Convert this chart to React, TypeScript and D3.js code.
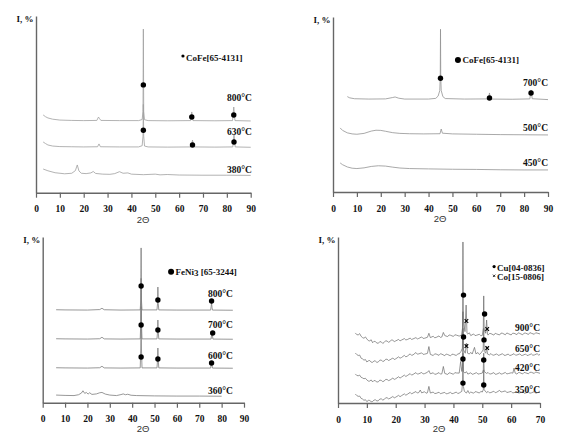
import React, { useEffect, useRef } from 'react';
import * as d3 from 'd3';

type Pt = [number, number];

// tick values
const ticks90 = [0, 10, 20, 30, 40, 50, 60, 70, 80, 90];
const ticks70 = [0, 10, 20, 30, 40, 50, 60, 70];

// panel 1 - CoFe, traces as [2theta, intensity %]
const cofeA800: Pt[] = [[3,44],[4,43],[5,42.3],[7,41.6],[10,41.1],[15,40.9],[20,40.8],[25.5,40.9],[26.2,42.8],[26.6,42],[27.2,40.9],[35,40.8],[43,40.8],[44.5,41.4],[44.85,46],[45,92.6],[45.15,46],[45.5,41.3],[47,40.8],[55,40.7],[64.8,40.8],[65.3,45.7],[65.8,40.8],[75,40.7],[82.4,40.8],[82.9,48.5],[83.4,40.8],[90,40.6]];
const cofeA630: Pt[] = [[3,28.7],[4,27.8],[5,27],[7,26.4],[10,26.1],[15,26],[20,25.9],[25.8,26],[26.4,27.6],[27,26],[35,25.9],[43,25.9],[44.5,26.6],[44.85,32],[45,50],[45.15,32],[45.5,26.4],[47,25.9],[55,25.8],[65.1,25.9],[65.6,29.8],[66.1,25.9],[75,25.8],[82.5,25.9],[83,32.7],[83.5,25.9],[90,25.7]];
const cofeA380: Pt[] = [[3,13.4],[5,12.4],[8,11.3],[12,10.7],[15,11],[16.5,12.5],[17.3,15.7],[18,12.3],[19,11],[21,10.8],[23,11.2],[24,12],[25,10.9],[28,10.5],[31,10.4],[33,10.8],[35,11.9],[36.5,11],[38.5,11.2],[40,10.5],[45,10.2],[50,10.5],[52,10.1],[55,10.3],[60,10],[70,9.9],[80,9.9],[90,9.8]];
const cofeADots: Pt[] = [[45,61],[65.3,42.8],[82.9,44],[45,35.3],[65.6,27],[83,28.7]];
const cofeALabels: [string, number][] = [['800°C', 53.6], ['630°C', 34.4], ['380°C', 13.4]];

// panel 2 - CoFe
const cofeB700: Pt[] = [[6,54.5],[7,53.8],[9,53.3],[15,53.1],[22,53.2],[25,54],[26,54.3],[27.5,53.6],[30,53.1],[40,53.1],[43,53.5],[44,54.8],[44.7,58],[44.9,66],[45,93],[45.1,66],[45.3,58],[46,54.5],[47,53.4],[55,53.1],[65.1,53.2],[65.5,56.6],[65.9,53.1],[75,53],[82.4,53.2],[82.9,58.3],[83.4,53.3],[90,52.8]];
const cofeB500: Pt[] = [[3,36.6],[4,35.2],[6,33.8],[8,33.2],[10,33],[13,33.5],[16,34.8],[18,35.3],[20,35.2],[22,34.7],[25,33.9],[28,33.5],[32,33.3],[38,33.2],[44.8,33.3],[45.3,36],[45.8,33.6],[50,33.2],[60,33],[70,32.8],[80,32.7],[90,32.6]];
const cofeB450: Pt[] = [[3,16.6],[4,15.6],[6,14.3],[8,13.6],[10,13.4],[13,13.8],[16,14.6],[19,15],[22,14.8],[25,14.2],[28,13.7],[32,13.4],[40,13.2],[50,13],[60,12.9],[70,12.7],[80,12.6],[90,12.6]];
const cofeBDots: Pt[] = [[45,65],[65.5,53.7],[82.9,56.6]];
const cofeBLabels: [string, number][] = [['700°C', 62.5], ['500°C', 36.7], ['450°C', 16.8]];

// panel 3 - FeNi3
const feni800: Pt[] = [[6,56.1],[10,56],[20,55.9],[25.5,56.2],[26.5,57],[27.5,56.1],[35,55.9],[43.6,56],[43.85,62],[44,93.4],[44.15,62],[44.4,56],[51.1,56],[51.35,60],[51.5,69.8],[51.65,60],[51.9,56],[60,55.9],[75.1,55.9],[75.3,58],[75.5,60.2],[75.7,57.5],[75.9,55.9],[85,55.8]];
const feni700: Pt[] = [[6,38.6],[10,38.5],[20,38.4],[25.5,38.6],[26.5,39.5],[27.5,38.5],[35,38.4],[43.6,38.5],[43.85,48],[44,75],[44.15,48],[44.4,38.5],[51.1,38.5],[51.35,43],[51.5,49.9],[51.65,43],[51.9,38.5],[60,38.4],[75.3,38.4],[75.5,41],[75.7,42.8],[75.9,40.5],[76.1,38.4],[85,38.3]];
const feni600: Pt[] = [[6,21.1],[10,21],[20,20.9],[25.5,21.1],[26.5,22],[27.5,21],[35,20.9],[43.6,21],[43.85,33],[44,58],[44.15,33],[44.4,21],[51.1,21],[51.35,26],[51.5,33],[51.65,26],[51.9,21],[60,20.9],[75.1,20.9],[75.3,23],[75.5,24.7],[75.7,22.5],[75.9,20.9],[85,20.8]];
const feni360: Pt[] = [[6,4.6],[10,4.4],[14,4.3],[16,4.8],[17.3,5.8],[18,7.2],[18.8,5.6],[19.5,6.2],[20.3,5.2],[21,6],[22,5],[24,5.3],[25.5,6],[26.5,6.2],[28,5.2],[30,4.6],[33,4.3],[35,4.9],[36,5.3],[37,4.8],[38,5.1],[39.5,4.5],[42,4.3],[50,4.1],[60,4],[70,4],[80,3.9]];
const feniDots: Pt[] = [[44,70.4],[51.5,62],[75.5,61.4],[44,46.9],[51.5,43.9],[76,42.1],[44,27.6],[51.5,26.4],[75.5,24]];
const feniLabels: [string, number][] = [['800°C', 66.2], ['700°C', 46.9], ['600°C', 28.2], ['360°C', 7.1]];

// panel 4 - Cu / Co
const cuco900: Pt[] = [[6,42.2],[6.5,41.2],[7,41],[7.5,41.8],[8,40.2],[8.5,39.4],[9,39],[9.5,39.8],[10,38.6],[10.5,37.6],[11,37.4],[11.5,38.1],[12,36.3],[12.5,37.2],[13,36.9],[13.5,36.1],[14,36],[14.5,37],[15,36.8],[15.5,35.9],[16,36.5],[16.5,37.5],[17,37.3],[17.5,36.6],[18,37],[18.5,38],[19,37.8],[19.5,37],[20,37.4],[21,38.3],[21.5,37.4],[22,37.9],[23,38.8],[23.5,38],[24,38.2],[25,39.1],[25.5,38.3],[26,38.6],[27,39.4],[27.5,38.6],[28,38.9],[29,39.8],[29.5,38.9],[30,39],[31,39.6],[31.5,42],[32,39.4],[33,40.2],[33.5,39.3],[34,39.5],[35,40.4],[35.5,39.5],[36,39.8],[36.5,42.5],[37,40.6],[38,40],[38.5,41],[39,40.8],[40,40.1],[40.5,41.1],[41,40.9],[42,40.3],[42.8,41],[43.15,45],[43.3,97],[43.45,50],[44,43],[44.4,59],[44.7,42],[45,41.5],[45.5,42.3],[46,40.6],[47,41.6],[47.5,40.6],[48,40.8],[49,41.4],[49.5,40.5],[50,40.7],[50.35,45],[50.5,64.5],[50.65,44],[51.2,42],[51.5,50],[51.8,41.5],[52,40.9],[52.5,41.9],[53,41.8],[54,40.9],[54.5,42],[55,41.6],[56,41],[56.5,42.1],[57,42],[58,41.1],[58.5,42.2],[59,41.8],[60,41],[60.5,42],[61,42],[62,41.2],[62.5,42.3],[63,41.9],[64,41.1],[64.5,42.1],[65,42.1],[66,41.3],[66.5,42.4],[67,42],[68,41.4],[68.5,42.3],[69,42.1],[70,41.6]];
const cuco650: Pt[] = [[6,30.1],[6.5,29.2],[7,28.6],[7.5,28.9],[8,27],[8.5,26.6],[9,25.8],[9.5,26.2],[10,24.7],[10.5,25.4],[11,25.6],[11.5,24.6],[12,24.5],[12.5,25.4],[13,25.2],[13.5,24.4],[14,24.8],[14.5,25.8],[15,25.9],[15.5,25],[16,25.3],[16.5,26.3],[17,26.4],[17.5,25.6],[18,26],[19,27.1],[19.5,26.2],[20,26.6],[21,27.8],[21.5,27],[22,27.4],[23,28.7],[23.5,27.8],[24,28.2],[25,29.6],[25.5,28.7],[26,29],[27,30.4],[27.5,29.4],[28,29.6],[29,30.2],[29.5,29.3],[30,29.4],[31,29.9],[31.5,34],[32,29.3],[33,28.6],[33.5,29.6],[34,29.5],[35,28.7],[35.5,29.7],[36,29.4],[37,28.5],[37.5,29.5],[38,29.2],[39,28.4],[39.5,29.4],[40,29.3],[41,28.6],[41.5,29.6],[42,29.6],[42.6,31],[43.1,33],[43.3,55],[43.5,32],[44.1,30],[44.5,36],[44.9,30],[45.5,29.5],[46,30.5],[46.5,29.5],[47.3,33.5],[47.8,29.6],[48.5,30.4],[49,29.2],[49.6,30.2],[50.3,32],[50.5,45],[50.7,31],[51.2,30],[51.5,34],[51.8,29.5],[52.5,29],[53,29.8],[53.5,28.9],[54,28.8],[55,29.6],[55.5,28.7],[56,28.9],[57,29.7],[57.5,28.8],[58,28.7],[59,29.5],[59.5,28.6],[60,28.8],[61,29.7],[61.5,28.8],[62,28.9],[63,29.6],[63.5,28.7],[64,28.7],[65,29.5],[65.5,28.6],[66,28.8],[67,29.6],[67.5,28.8],[68,28.9],[69,29.7],[69.5,28.9],[70,29.2]];
const cuco420: Pt[] = [[6,17.5],[6.5,16.6],[7,16.4],[7.5,16.8],[8,15.5],[8.5,15.1],[9,14.6],[9.5,14.9],[10,13.9],[10.5,13.2],[11,13.2],[11.5,13.9],[12,12.7],[12.5,13.6],[13,13.3],[13.5,12.6],[14,12.8],[14.5,13.8],[15,13.6],[15.5,12.9],[16,13.2],[16.5,14.2],[17,14.2],[17.5,13.5],[18,13.8],[19,15],[19.5,14.2],[20,14.6],[21,15.8],[21.5,15],[22,15.6],[23,16.8],[23.5,16],[24,16.5],[25,17.7],[25.5,16.8],[26,17.2],[27,18.3],[27.5,17.4],[28,17.6],[29,18.4],[29.5,17.5],[30,17.7],[31,18.5],[31.5,19.5],[32,17.6],[33,18.2],[33.5,17.3],[34,17.4],[35,18.3],[35.5,17.4],[36,17.6],[36.5,22],[37,17.8],[38,17.2],[38.5,18.2],[39,18],[40,17.3],[40.5,18.3],[41,18.1],[42,18],[42.5,25],[42.9,19],[43.15,22],[43.3,45],[43.45,19],[44,18],[44.5,18.9],[45,17.4],[46,18.2],[46.5,17.3],[47,17.5],[48,18.3],[48.5,17.4],[49,17.6],[50,18],[50.35,20],[50.5,30],[50.65,19],[51.5,17.8],[52,18.4],[52.5,17.5],[53,17.5],[54,18.3],[54.5,17.3],[55,17.4],[56,18.2],[56.5,17.4],[57,17.6],[58,18.4],[58.5,17.5],[59,17.7],[60,18.2],[60.6,18],[61,21],[61.4,18],[62,17.4],[62.5,18.3],[63,18.3],[64,17.5],[64.5,18.4],[65,18.2],[66,17.6],[66.5,18.5],[67,18.5],[68,17.8],[68.5,18.7],[69,18.4],[70,17.9]];
const cuco350: Pt[] = [[6,5.4],[6.5,4.5],[7,4],[7.5,4.2],[8,2.8],[8.5,2.4],[9,1.6],[9.5,2],[10,0.8],[10.5,1.6],[11,1.5],[11.5,0.8],[12,0.9],[12.5,1.8],[13,1.9],[13.5,1.2],[14,1.4],[14.5,2.4],[15,2.5],[15.5,1.8],[16,2.1],[16.5,3.1],[17,3.2],[17.5,2.5],[18,2.8],[19,3.9],[19.5,3.1],[20,3.5],[21,4.6],[21.5,3.8],[22,4.4],[23,5.5],[23.5,4.7],[24,5.2],[25,6.4],[25.5,5.5],[26,6],[27,6.9],[27.5,6],[28,6.3],[28.5,7.8],[29,6.1],[30,6.8],[30.5,5.9],[31,6.2],[31.5,10],[32,6],[33,6.6],[33.5,5.7],[34,5.8],[35,6.5],[35.5,5.6],[36,5.9],[37,6.4],[37.5,5.5],[38,5.7],[39,6.4],[39.5,5.6],[40,5.8],[41,6.6],[41.5,5.7],[42,6],[42.9,7],[43.15,12],[43.3,30],[43.45,10],[43.8,7],[44.5,6],[45,7.5],[45.5,5.8],[46,6.6],[47,5.9],[47.5,6.8],[48,6.7],[49,6],[49.5,7],[50,6.6],[50.35,8],[50.5,20],[50.65,8],[51.5,6.2],[52,7],[52.5,6.1],[53,6.3],[54,7.1],[54.5,6.2],[55,6.5],[56,7.6],[56.5,6.6],[57,6.8],[58,7.3],[58.5,6.3],[59,6.5],[60,7],[60.5,6.1],[61,6.2],[62,6.9],[62.5,6],[63,6.1],[64,6.8],[64.5,5.9],[65,6],[66,6.7],[66.5,5.9],[67,6.1],[68,6.8],[68.5,5.9],[69,6.2],[70,6.5]];
const cuDots: Pt[] = [[43.5,65],[50.8,53.6],[43.5,39.8],[50.6,38],[43.3,26.5],[50.5,25.9],[43.3,12],[50.5,10.8]];
const coCrosses: Pt[] = [[44.5,49.4],[51.7,44.6],[44.5,34.3],[51.7,33.1]];
const cucoLabels: [string, number][] = [['900°C', 45.2], ['650°C', 33.1], ['420°C', 21.1], ['350°C', 8.4]];

const serif = '"Liberation Serif", "Times New Roman", serif';
const sans = '"Liberation Sans", Arial, sans-serif';

interface LegendItem { text: React.ReactNode; mark: 'dot' | 'bigdot' | 'cross'; x: number; v: number; }

interface PanelProps {
  left: number; right: number; bottom: number; top: number;
  xMax: number; ticks: number[];
  traces: Pt[][]; traceColor: string; traceWidth: number;
  dots: Pt[]; crosses?: Pt[];
  labels: [string, number][]; labelX: number;
  legend: LegendItem[];
  axisLabelX: number; axisLabelY: number;
}

// small x-shaped marker
const Cross: React.FC<{ cx: number; cy: number; s: number; w: number }> = ({ cx, cy, s, w }) => (
  <path d={`M${cx - s},${cy - s}L${cx + s},${cy + s}M${cx - s},${cy + s}L${cx + s},${cy - s}`} stroke="#000" strokeWidth={w} />
);

const Panel: React.FC<PanelProps> = (p) => {
  const xRef = useRef<SVGGElement>(null);
  const yRef = useRef<SVGGElement>(null);
  const x = d3.scaleLinear().domain([0, p.xMax]).range([p.left, p.right]);
  const y = d3.scaleLinear().domain([0, 100]).range([p.bottom, p.top]);
  const line = d3.line<Pt>().x(d => x(d[0])).y(d => y(d[1]));

  useEffect(() => {
    const gx = d3.select(xRef.current!);
    gx.selectAll('*').remove();
    gx.call(d3.axisBottom(x).tickValues(p.ticks).tickSize(5).tickSizeOuter(0).tickPadding(8).tickFormat(d3.format('d')) as any);
    gx.select('.domain').attr('stroke', '#666').attr('stroke-width', 1.4);
    gx.selectAll('.tick line').attr('stroke', '#666').attr('stroke-width', 1.2);
    gx.selectAll('.tick text')
      .attr('font-family', serif).attr('font-weight', 'bold')
      .attr('font-size', 9.5).attr('fill', '#111');
    const gy = d3.select(yRef.current!);
    gy.selectAll('*').remove();
    gy.call(d3.axisLeft(y).tickValues([]).tickSizeOuter(0) as any);
    gy.select('.domain').attr('stroke', '#666').attr('stroke-width', 1.4);
  }, []);

  return (
    <g>
      {p.traces.map((t, i) => (
        <path key={i} d={line(t) || ''} fill="none" stroke={p.traceColor} strokeWidth={p.traceWidth} strokeLinejoin="round" />
      ))}
      <g ref={xRef} transform={`translate(0,${p.bottom})`} />
      <g ref={yRef} transform={`translate(${p.left},0)`} />
      {p.dots.map((d, i) => (
        <circle key={i} cx={x(d[0])} cy={y(d[1])} r={2.7} fill="#000" />
      ))}
      {(p.crosses || []).map((d, i) => (
        <Cross key={i} cx={x(d[0])} cy={y(d[1])} s={1.8} w={1.1} />
      ))}
      {p.labels.map(([t, v], i) => (
        <text key={i} x={x(p.labelX)} y={y(v) + 3.5} textAnchor="end" fontFamily={serif} fontWeight="bold" fontSize={9.5} fill="#111">{t}</text>
      ))}
      {p.legend.map((l, i) => (
        <g key={i}>
          {l.mark === 'cross'
            ? <Cross cx={x(l.x)} cy={y(l.v) - 1.5} s={1.2} w={0.8} />
            : <circle cx={x(l.x)} cy={y(l.v) - (l.mark === 'dot' ? 1.5 : 0)} r={l.mark === 'dot' ? 1.6 : 3} fill="#000" />}
          <text x={x(l.x) + (l.mark === 'bigdot' ? 4.5 : 3)} y={y(l.v) + 3} fontFamily={serif} fontWeight="bold" fontSize={9} fill="#111">{l.text}</text>
        </g>
      ))}
      <text x={p.left - 2.5} y={p.top + 6} textAnchor="end" fontFamily={serif} fontWeight="bold" fontSize={9} fill="#111">I, %</text>
      <text x={p.axisLabelX} y={p.axisLabelY} textAnchor="middle" fontFamily={sans} fontSize={9.5} fill="#333">2Θ</text>
    </g>
  );
};

export default function App() {
  return (
    <svg width={587} height={441} style={{ position: 'absolute', left: 0, top: 0, background: '#fff' }}>
      <rect width={587} height={441} fill="#fff" />
      <Panel left={36} right={250.7} bottom={192.7} top={16} xMax={90} ticks={ticks90}
        traces={[cofeA800, cofeA630, cofeA380]} traceColor="#a0a0a0" traceWidth={0.8}
        dots={cofeADots} labels={cofeALabels} labelX={90.5}
        legend={[{ text: 'CoFe[65-4131]', mark: 'dot', x: 61.6, v: 76.5 }]}
        axisLabelX={143} axisLabelY={223} />
      <Panel left={333} right={548} bottom={192} top={17} xMax={90} ticks={ticks90}
        traces={[cofeB700, cofeB500, cofeB450]} traceColor="#939393" traceWidth={0.8}
        dots={cofeBDots} labels={cofeBLabels} labelX={90}
        legend={[{ text: 'CoFe[65-4131]', mark: 'bigdot', x: 52.3, v: 75.4 }]}
        axisLabelX={440} axisLabelY={222} />
      <Panel left={42.7} right={244} bottom={402.7} top={237} xMax={90} ticks={ticks90}
        traces={[feni800, feni700, feni600, feni360]} traceColor="#7d7d7d" traceWidth={0.8}
        dots={feniDots} labels={feniLabels} labelX={85}
        legend={[{ text: <>FeNi<tspan dy={1.5}>3</tspan><tspan dy={-1.5}> [65-3244]</tspan></>, mark: 'bigdot', x: 57.4, v: 79 }]}
        axisLabelX={143} axisLabelY={432} />
      <Panel left={338} right={540} bottom={403} top={237} xMax={70} ticks={ticks70}
        traces={[cuco900, cuco650, cuco420, cuco350]} traceColor="#6a6a6a" traceWidth={0.7}
        dots={cuDots} crosses={coCrosses} labels={cucoLabels} labelX={70}
        legend={[
          { text: 'Cu[04-0836]', mark: 'dot', x: 54.1, v: 81.3 },
          { text: 'Co[15-0806]', mark: 'cross', x: 54.1, v: 75.7 },
        ]}
        axisLabelX={439} axisLabelY={432} />
    </svg>
  );
}
